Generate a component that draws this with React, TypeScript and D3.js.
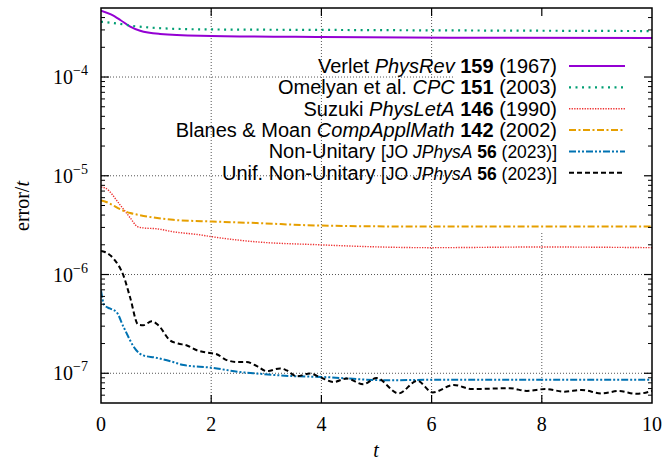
import React from "react";
import * as d3 from "d3";

// t values and error/t values
const verletT = [0, 0.18, 0.35, 0.53, 0.71, 1.07, 1.8, 4, 7, 10];
const verletErr = [4.7e-4, 4.3e-4, 3.78e-4, 3.24e-4, 2.94e-4, 2.73e-4, 2.62e-4, 2.54e-4, 2.5e-4, 2.48e-4];

const omelyanT = [0, 0.3, 0.58, 1.0, 1.8, 4, 10];
const omelyanErr = [3.63e-4, 3.48e-4, 3.29e-4, 3.14e-4, 3.04e-4, 3.0e-4, 2.92e-4];

const suzukiT = [0, 0.07, 0.345, 0.53, 0.66, 0.76, 1.02, 1.31, 1.8, 2.02, 2.83, 3.97, 4.34, 5.97, 7.97, 10];
const suzukiErr = [7.68e-6, 7.55e-6, 5.08e-6, 3.75e-6, 3.06e-6, 2.97e-6, 2.9e-6, 2.71e-6, 2.52e-6, 2.41e-6, 2.14e-6, 2.0e-6, 1.96e-6, 1.87e-6, 1.9e-6, 1.87e-6];

const blanesT = [0, 0.07, 0.4, 0.53, 0.67, 1.02, 1.31, 2.02, 2.83, 3.97, 5.97, 10];
const blanesErr = [5.62e-6, 5.49e-6, 4.45e-6, 4.19e-6, 4.03e-6, 3.73e-6, 3.58e-6, 3.44e-6, 3.32e-6, 3.13e-6, 3.06e-6, 3.06e-6];

const nonUnitT = [0, 0.06, 0.16, 0.28, 0.41, 0.64, 0.76, 0.99, 1.31, 1.5, 2.0, 2.52, 2.83, 3.43, 4.0, 5.2, 6, 8, 10];
const nonUnitErr = [6.9e-7, 4.89e-7, 4.53e-7, 4.18e-7, 2.94e-7, 1.71e-7, 1.52e-7, 1.44e-7, 1.3e-7, 1.21e-7, 1.14e-7, 1.03e-7, 9.93e-8, 9.39e-8, 9.18e-8, 8.49e-8, 8.59e-8, 8.59e-8, 8.59e-8];

const unifT = [0, 0.07, 0.25, 0.405, 0.526, 0.677, 0.768, 0.92, 1.04, 1.25, 1.4, 1.55, 1.74, 1.95, 2.1, 2.28, 2.49, 2.64, 2.83, 3.01, 3.25, 3.37, 3.55, 3.79, 3.97, 4.22, 4.46, 4.76, 5.0, 5.4, 5.74, 6.02, 6.4, 6.73, 7.42, 7.73, 8.07, 8.41, 8.72, 9.09, 9.4, 9.72, 10];
const unifErr = [1.73e-6, 1.69e-6, 1.4e-6, 9.84e-7, 5.93e-7, 3.1e-7, 3.07e-7, 3.36e-7, 3.07e-7, 2.16e-7, 2.0e-7, 1.92e-7, 1.71e-7, 1.61e-7, 1.56e-7, 1.36e-7, 1.3e-7, 1.3e-7, 1.18e-7, 1.05e-7, 1.12e-7, 1.07e-7, 9.33e-8, 9.93e-8, 9.18e-8, 8.17e-8, 8.84e-8, 7.74e-8, 8.96e-8, 6.25e-8, 8.39e-8, 6.4e-8, 7.62e-8, 6.93e-8, 7.05e-8, 6.62e-8, 6.93e-8, 6.51e-8, 6.77e-8, 6.25e-8, 6.62e-8, 6.19e-8, 6.62e-8];

// legend labels: [text, kind] with n = normal, i = italic, b = bold, s = small
const verletLabel = [["Verlet ", "n"], ["PhysRev", "i"], [" 159", "b"], [" (1967)", "n"]];
const omelyanLabel = [["Omelyan et al. ", "n"], ["CPC", "i"], [" 151", "b"], [" (2003)", "n"]];
const suzukiLabel = [["Suzuki ", "n"], ["PhysLetA", "i"], [" 146", "b"], [" (1990)", "n"]];
const blanesLabel = [["Blanes & Moan ", "n"], ["CompApplMath", "i"], [" 142", "b"], [" (2002)", "n"]];
const nonUnitLabel = [["Non-Unitary ", "n"], ["[JO ", "s"], ["JPhysA", "si"], [" 56", "sb"], [" (2023)]", "s"]];
const unifLabel = [["Unif. Non-Unitary ", "n"], ["[JO ", "s"], ["JPhysA", "si"], [" 56", "sb"], [" (2023)]", "s"]];

const xTicks = [0, 2, 4, 6, 8, 10];
const yTicks = [1e-4, 1e-5, 1e-6, 1e-7];
const yTickExp = ["−4", "−5", "−6", "−7"];

const series = [
  { t: verletT, v: verletErr, label: verletLabel, color: "#9400d3", width: 2, dash: null },
  { t: omelyanT, v: omelyanErr, label: omelyanLabel, color: "#009e73", width: 2.2, dash: "2 4.5" },
  { t: suzukiT, v: suzukiErr, label: suzukiLabel, color: "#ee3030", width: 1.4, dash: "1.3 1.3" },
  { t: blanesT, v: blanesErr, label: blanesLabel, color: "#e69f00", width: 2, dash: "7 2.5 2 2.5" },
  { t: nonUnitT, v: nonUnitErr, label: nonUnitLabel, color: "#0072b2", width: 2, dash: "7 2 2 2 2 2" },
  { t: unifT, v: unifErr, label: unifLabel, color: "#000000", width: 2, dash: "5 3" },
];

const W = 662;
const H = 462;
const L = 101, R = 652, T = 8, B = 403;

export default function App() {
  const x = d3.scaleLinear().domain([0, 10]).range([L, R]);
  const y = d3.scaleLog().domain([5e-8, 5e-4]).range([B, T]);

  const minor: number[] = [];
  for (let e = -8; e <= -4; e++) {
    for (let m = 2; m <= 9; m++) {
      const v = m * Math.pow(10, e);
      if (v > 5e-8 && v < 5e-4) minor.push(v);
    }
  }

  const line = d3
    .line<[number, number]>()
    .x((d) => x(d[0]))
    .y((d) => y(d[1]))
    .curve(d3.curveMonotoneX);

  const serif = "'Liberation Serif', 'DejaVu Serif', serif";
  const sans = "'Liberation Sans', Arial, sans-serif";
  const grid = "#555";

  const keyX = 557;
  const keyY0 = 66;
  const keyStep = 21.35;

  return (
    <svg width={W} height={H} style={{ position: "absolute", left: 0, top: 0, background: "#fff" }}>
      <defs>
        <clipPath id="plot">
          <rect x={L} y={T} width={R - L} height={B - T} />
        </clipPath>
      </defs>
      <rect x={0} y={0} width={W} height={H} fill="#fff" />

      {/* grid */}
      {xTicks.slice(1, -1).map((t) => (
        <line key={"gx" + t} x1={x(t)} x2={x(t)} y1={T} y2={B} stroke={grid} strokeWidth={1} strokeDasharray="1 2" />
      ))}
      {yTicks.map((v) => (
        <line key={"gy" + v} x1={L} x2={R} y1={y(v)} y2={y(v)} stroke={grid} strokeWidth={1} strokeDasharray="1 2" />
      ))}

      {/* opaque key area */}
      <rect x={455} y={T + 1} width={R - 455 - 1} height={230 - T} fill="#fff" />
      <rect x={425} y={y(1e-4) + 1.5} width={30} height={y(1e-5) - y(1e-4) - 11} fill="#fff" />

      {/* curves */}
      <g clipPath="url(#plot)">
        {series.map((s, i) => (
          <path
            key={"c" + i}
            d={line(s.t.map((t, j) => [t, s.v[j]] as [number, number])) || ""}
            fill="none"
            stroke={s.color}
            strokeWidth={s.width}
            strokeDasharray={s.dash || undefined}
            strokeLinejoin="round"
          />
        ))}
      </g>

      {/* legend */}
      {series.map((s, i) => {
        const yy = keyY0 + i * keyStep;
        return (
          <g key={"k" + i}>
            <text x={keyX} y={yy + 7} textAnchor="end" fontFamily={sans} fontSize={20} fill="#000">
              {s.label.map(([txt, k], j) => (
                <tspan
                  key={j}
                  fontStyle={k.includes("i") ? "italic" : "normal"}
                  fontWeight={k.includes("b") ? "bold" : "normal"}
                  fontSize={k.startsWith("s") ? 17.5 : 20}
                  style={{ whiteSpace: "pre" }}
                >
                  {txt}
                </tspan>
              ))}
            </text>
            <line x1={569} x2={625} y1={yy} y2={yy} stroke={s.color} strokeWidth={s.width} strokeDasharray={s.dash || undefined} />
          </g>
        );
      })}

      {/* ticks */}
      {xTicks.slice(1, -1).map((t) => (
        <g key={"tx" + t}>
          <line x1={x(t)} x2={x(t)} y1={B} y2={B - 8} stroke="#000" strokeWidth={1.2} />
          <line x1={x(t)} x2={x(t)} y1={T} y2={T + 8} stroke="#000" strokeWidth={1.2} />
        </g>
      ))}
      {yTicks.map((v) => (
        <g key={"ty" + v}>
          <line x1={L} x2={L + 8} y1={y(v)} y2={y(v)} stroke="#000" strokeWidth={1.2} />
          <line x1={R} x2={R - 8} y1={y(v)} y2={y(v)} stroke="#000" strokeWidth={1.2} />
        </g>
      ))}
      {minor.map((v) => (
        <g key={"my" + v}>
          <line x1={L} x2={L + 4} y1={y(v)} y2={y(v)} stroke="#000" strokeWidth={1} />
          <line x1={R} x2={R - 4} y1={y(v)} y2={y(v)} stroke="#000" strokeWidth={1} />
        </g>
      ))}

      {/* border */}
      <rect x={L} y={T} width={R - L} height={B - T} fill="none" stroke="#000" strokeWidth={1.5} />

      {/* tick labels */}
      {xTicks.map((t) => (
        <text key={"lx" + t} x={x(t)} y={431} textAnchor="middle" fontFamily={serif} fontSize={20} fill="#000">
          {t}
        </text>
      ))}
      {yTicks.map((v, i) => (
        <text key={"ly" + v} x={88} y={y(v) + 7} textAnchor="end" fontFamily={serif} fontSize={20} fill="#000">
          10
          <tspan fontSize={14} dy={-9}>
            {yTickExp[i]}
          </tspan>
        </text>
      ))}

      {/* axis labels */}
      <text x={376} y={457} textAnchor="middle" fontFamily={serif} fontSize={20} fontStyle="italic" fill="#000">
        t
      </text>
      <text
        transform="translate(29,206) rotate(-90)"
        textAnchor="middle"
        fontFamily={serif}
        fontSize={20}
        fill="#000"
      >
        error/<tspan fontStyle="italic">t</tspan>
      </text>
    </svg>
  );
}
